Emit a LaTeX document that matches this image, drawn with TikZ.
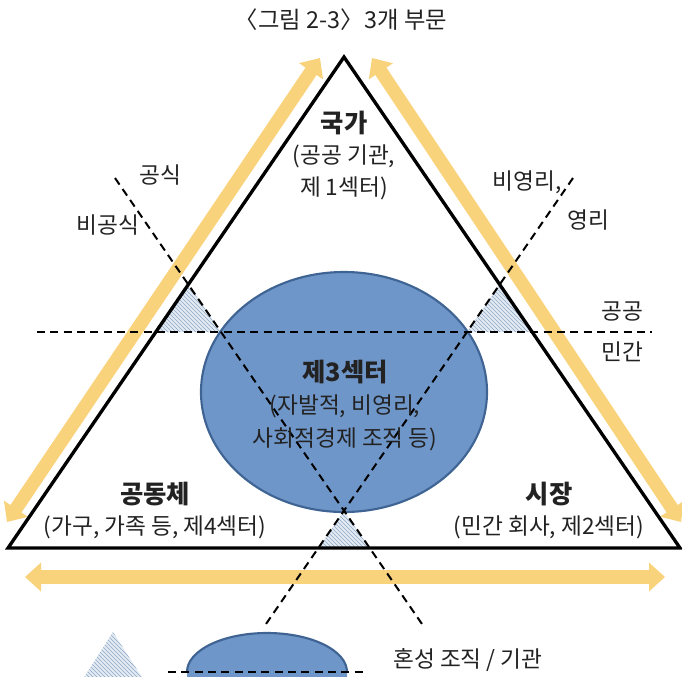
\documentclass[tikz,border=0pt]{standalone}
\usepackage{fontspec}
\newfontfamily\kr{Noto Sans CJK KR}
\usetikzlibrary{arrows.meta,patterns}
\definecolor{yel}{HTML}{F9D37C}
\definecolor{ellfill}{HTML}{6F96C9}
\definecolor{elldraw}{HTML}{3F6493}
\definecolor{hatchc}{HTML}{8FA9C6}
\definecolor{hatchbg}{HTML}{E3EBF3}
\definecolor{txt}{HTML}{222222}
\begin{document}
\begin{tikzpicture}[x=0.75pt,y=-0.75pt,
  yarrow/.style={draw=yel, line width=10pt, {Triangle[width=21pt,length=12pt]}-{Triangle[width=21pt,length=12pt]}},
  dline/.style={draw=black, line width=1.5pt, dash pattern=on 6pt off 4pt},
  hatchbgst/.style={fill=hatchbg},
  hatchst/.style={pattern=north west lines, pattern color=hatchc},
  blob/.style={fill=ellfill, draw=elldraw, line width=1.6pt},
  lab/.style={font=\kr\fontsize{17pt}{20pt}\selectfont, text=txt, inner sep=0pt},
  blab/.style={font=\kr\bfseries\fontsize{19pt}{22pt}\selectfont, text=txt, inner sep=0pt},
  ttl/.style={font=\kr\fontsize{17.5pt}{20pt}\selectfont, text=txt, inner sep=0pt}]
\useasboundingbox (0,0) rectangle (682,676);
\clip (0,0) rectangle (682,676);

% title
\node[ttl] (title) at (341,20) {〈그림 2-3〉\kern0.05em 3개 부문};

% yellow arrows
\draw[yarrow] (7,522) -- (320,58);
\draw[yarrow] (372,58) -- (681,522);
\draw[yarrow] (25,577) -- (665,577);

% hatched regions
\fill[hatchbgst] (155.8,332) -- (221,332) -- (188.3,284.5) -- cycle;
\fill[hatchst] (155.8,332) -- (221,332) -- (188.3,284.5) -- cycle;
\fill[hatchbgst] (532.2,332) -- (467,332) -- (499.7,284.5) -- cycle;
\fill[hatchst] (532.2,332) -- (467,332) -- (499.7,284.5) -- cycle;
\fill[hatchbgst] (344,511) -- (318.5,548) -- (369.5,548) -- cycle;
\fill[hatchst] (344,511) -- (318.5,548) -- (369.5,548) -- cycle;

% third-sector ellipse
\draw[blob] (344,392) ellipse [x radius=143, y radius=120];

% triangle
\draw[line width=2.5pt, line join=miter] (8,548) -- (344,57) -- (680,548) -- cycle;

% dashed lines
\draw[dline] (37,332) -- (652,332);
\draw[dline] (115,178) -- (422,624);
\draw[dline] (573,178) -- (266,624);

% legend
\fill[hatchbgst] (113,632) -- (76,690) -- (150,690) -- cycle;
\fill[hatchst] (113,632) -- (76,690) -- (150,690) -- cycle;
\fill[ellfill] (187,680) -- (187,672) arc[start angle=180, end angle=360, x radius=80, y radius=39] -- (347,680) -- cycle;
\draw[elldraw, line width=1.6pt] (187,672) arc[start angle=180, end angle=360, x radius=80, y radius=39];
\draw[dline] (168,672) -- (366,672);
\node[lab, anchor=west] (legend) at (393,660) {혼성 조직 / 기관};

% sector labels
\node[blab] (state) at (344,123) {국가};
\node[lab] (state1) at (344,156) {(공공 기관,};
\node[lab] (state2) at (344,188) {제 1섹터)};

\node[blab] (third) at (345,372) {제3섹터};
\node[lab] (third1) at (345,406) {(자발적, 비영리,};
\node[lab] (third2) at (345,439) {사회적경제 조직 등)};

\node[blab] (comm) at (155,494) {공동체};
\node[lab] (comm1) at (155,527) {(가구, 가족 등, 제4섹터)};

\node[blab] (market) at (549,494) {시장};
\node[lab] (market1) at (549,527) {(민간 회사, 제2섹터)};

% axis labels
\node[lab] (formal) at (160,175) {공식};
\node[lab] (informal) at (108,225) {비공식};
\node[lab] (nonprofit) at (527,182) {비영리,};
\node[lab] (profit) at (588,220) {영리};
\node[lab] (public) at (622,312) {공공};
\node[lab] (private) at (622,352) {민간};
\end{tikzpicture}
\end{document}
